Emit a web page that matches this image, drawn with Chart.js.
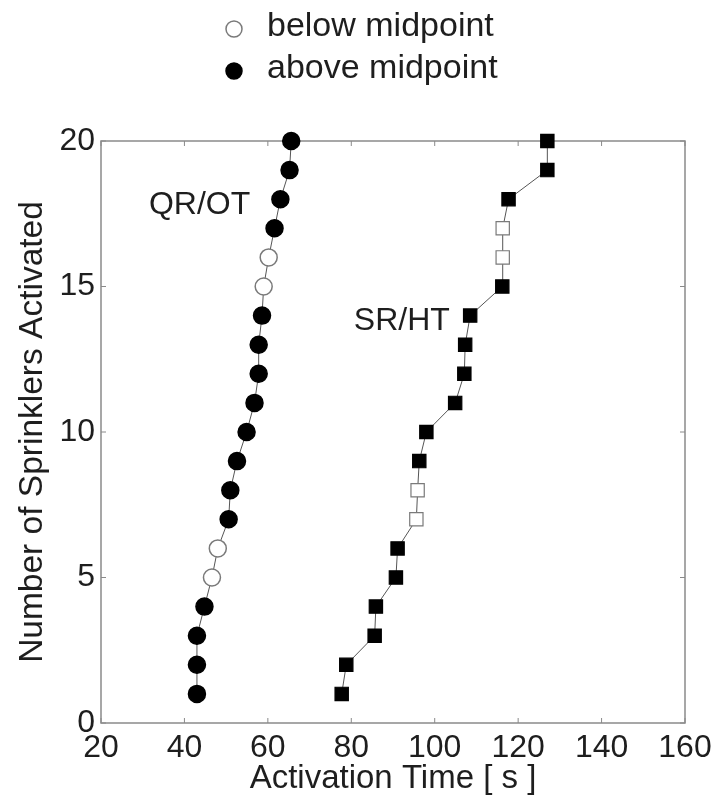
<!DOCTYPE html>
<html>
<head>
<meta charset="utf-8">
<script src="https://cdn.jsdelivr.net/npm/chart.js@4.4.1/dist/chart.umd.min.js"></script>
<style>
    html, body { margin: 0; padding: 0; background: #fff; }
    #wrap { width: 722px; height: 801px; position: relative; }
</style>
</head>
<body>
<div id="wrap"><canvas id="sprinkler-chart"></canvas></div>
<script>
// sprinklers activated so far (y for every point)
const sprinklerCount = [1, 2, 3, 4, 5, 6, 7, 8, 9, 10, 11, 12, 13, 14, 15, 16, 17, 18, 19, 20];
// activation times [s]
const qrotTimes = [43.0, 43.0, 43.0, 44.8, 46.6, 48.0, 50.6, 51.0, 52.6, 54.9,
                   56.8, 57.8, 57.8, 58.6, 59.0, 60.2, 61.6, 63.0, 65.2, 65.6];
const srhtTimes = [77.7, 78.8, 85.6, 85.9, 90.7, 91.1, 95.6, 95.9, 96.3, 98.0,
                   104.9, 107.1, 107.3, 108.5, 116.2, 116.3, 116.3, 117.7, 127.0, 127.0];
// which activations fell below the midpoint (open markers)
const qrotBelow = [5, 6, 15, 16];
const srhtBelow = [7, 8, 16, 17];

const seriesNames = ['QR/OT', 'SR/HT'];
const legendLabels = ['below midpoint', 'above midpoint'];
const xTicks = [20, 40, 60, 80, 100, 120, 140, 160];
const yTicks = [0, 5, 10, 15, 20];

const FONT = "'Liberation Sans', Arial, Helvetica, sans-serif";
const AXIS_GREY = '#8a8a8a';
const TEXT = '#1e1e1e';

Chart.defaults.font.family = FONT;
Chart.defaults.font.size = 32;
Chart.defaults.color = TEXT;

function toPoints(times) {
    return times.map((t, i) => ({x: t, y: sprinklerCount[i]}));
}

function fillFor(below) {
    return sprinklerCount.map(n => below.includes(n) ? '#ffffff' : '#000000');
}

function strokeFor(below) {
    return sprinklerCount.map(n => below.includes(n) ? '#7a7a7a' : '#000000');
}

// box round the plot with short ticks pointing inwards on every side
const frameTicks = {
    id: 'frameTicks',
    beforeDatasetsDraw(chart) {
        const {ctx, chartArea: a, scales: {x, y}} = chart;
        const len = 5;
        ctx.save();
        ctx.strokeStyle = AXIS_GREY;
        ctx.lineWidth = 1.5;
        ctx.strokeRect(a.left, a.top, a.right - a.left, a.bottom - a.top);
        ctx.lineWidth = 1;
        ctx.beginPath();
        for (const v of xTicks) {
            const px = x.getPixelForValue(v);
            ctx.moveTo(px, a.bottom); ctx.lineTo(px, a.bottom - len);
            ctx.moveTo(px, a.top); ctx.lineTo(px, a.top + len);
        }
        for (const v of yTicks) {
            const py = y.getPixelForValue(v);
            ctx.moveTo(a.left, py); ctx.lineTo(a.left + len, py);
            ctx.moveTo(a.right, py); ctx.lineTo(a.right - len, py);
        }
        ctx.stroke();
        ctx.restore();
    }
};

// series names written next to each curve
const curveNames = {
    id: 'curveNames',
    afterDatasetsDraw(chart) {
        const {ctx, scales: {x, y}} = chart;
        const spots = [[31.5, 17.8], [80.6, 13.8]];
        ctx.save();
        ctx.font = `32px ${FONT}`;
        ctx.fillStyle = TEXT;
        ctx.textAlign = 'left';
        ctx.textBaseline = 'middle';
        seriesNames.forEach((name, i) => {
            ctx.fillText(name, x.getPixelForValue(spots[i][0]), y.getPixelForValue(spots[i][1]));
        });
        ctx.restore();
    }
};

// two-row legend above the plot
const markerLegend = {
    id: 'markerLegend',
    afterDraw(chart) {
        const {ctx} = chart;
        const styles = [['#ffffff', '#7a7a7a'], ['#000000', '#000000']];
        ctx.save();
        ctx.font = `34px ${FONT}`;
        ctx.textAlign = 'left';
        ctx.textBaseline = 'alphabetic';
        legendLabels.forEach((label, i) => {
            const cy = 29 + i * 42;
            ctx.fillStyle = styles[i][0];
            ctx.strokeStyle = styles[i][1];
            Chart.helpers.drawPoint(ctx, {pointStyle: 'circle', radius: 8, borderWidth: 1.5}, 234, cy);
            ctx.fillStyle = TEXT;
            ctx.fillText(label, 267, cy + 7);
        });
        ctx.restore();
    }
};

const ctx = document.getElementById('sprinkler-chart').getContext('2d');
const sprinklerChart = new Chart(ctx, {
    type: 'line',
    data: {
        datasets: [
            {
                label: seriesNames[0],
                data: toPoints(qrotTimes),
                borderColor: '#555555',
                borderWidth: 1,
                pointStyle: 'circle',
                pointRadius: 8.5,
                pointBorderWidth: 1.5,
                pointBackgroundColor: fillFor(qrotBelow),
                pointBorderColor: strokeFor(qrotBelow),
                tension: 0,
                clip: false
            },
            {
                label: seriesNames[1],
                data: toPoints(srhtTimes),
                borderColor: '#555555',
                borderWidth: 1,
                pointStyle: 'rect',
                pointRadius: 9.4,
                pointBorderWidth: 1.2,
                pointBackgroundColor: fillFor(srhtBelow),
                pointBorderColor: strokeFor(srhtBelow),
                tension: 0,
                clip: false
            }
        ]
    },
    options: {
        responsive: true,
        maintainAspectRatio: false,
        animation: false,
        layout: {padding: {left: 0, top: 141, right: 37, bottom: 0}},
        plugins: {
            legend: {display: false},
            tooltip: {enabled: false}
        },
        scales: {
            x: {
                type: 'linear',
                min: 20,
                max: 160,
                afterBuildTicks: (scale) => { scale.ticks = xTicks.map(v => ({value: v})); },
                afterFit: (scale) => { scale.height = 78; },
                grid: {display: false, drawTicks: false},
                border: {display: false},
                ticks: {autoSkip: false, maxRotation: 0, padding: 6, color: TEXT},
                title: {
                    display: true,
                    text: 'Activation Time [ s ]',
                    color: TEXT,
                    font: {size: 33},
                    padding: {top: 0, bottom: 2}
                }
            },
            y: {
                type: 'linear',
                min: 0,
                max: 20,
                afterBuildTicks: (scale) => { scale.ticks = yTicks.map(v => ({value: v})); },
                afterFit: (scale) => { scale.width = 101; },
                grid: {display: false, drawTicks: false},
                border: {display: false},
                ticks: {padding: 6, color: TEXT},
                title: {
                    display: true,
                    text: 'Number of Sprinklers Activated',
                    color: TEXT,
                    font: {size: 33.5},
                    padding: {top: 13, bottom: 0}
                }
            }
        }
    },
    plugins: [frameTicks, curveNames, markerLegend]
});
</script>
</body>
</html>
